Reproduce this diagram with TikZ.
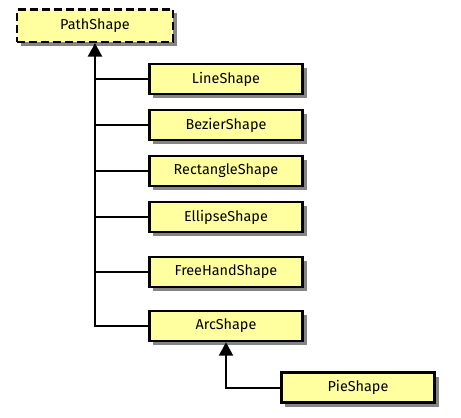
\documentclass[tikz,border=0pt]{standalone}
\usepackage{fontspec}
\setmainfont{Fira Sans}
\usetikzlibrary{arrows.meta,shadows}
\definecolor{boxfill}{RGB}{255,255,160}
\definecolor{shadowgray}{RGB}{120,120,120}
\begin{document}
\begin{tikzpicture}[x=0.75pt,y=-0.75pt,
  cls/.style={draw=black,line width=2pt,fill=boxfill,minimum width=115pt,minimum height=22.5pt,
    inner sep=0pt,font=\fontsize{10.8}{12}\selectfont,
    drop shadow={shadow xshift=3pt,shadow yshift=-3pt,fill=shadowgray,opacity=0.9}},
  abscls/.style={cls,dash pattern=on 6pt off 3pt},
  conn/.style={draw=black,line width=1.5pt},
  inh/.style={conn,-{Triangle[width=10.5pt,length=10pt]}}]
\useasboundingbox (0,0) rectangle (461,418);
\node[abscls,minimum width=117pt,minimum height=24.5pt] (path) at (95,25.5) {PathShape};
\node[cls] (line) at (226,79) {LineShape};
\node[cls] (bezier) at (226,125) {BezierShape};
\node[cls] (rect) at (226,171) {RectangleShape};
\node[cls] (ellipse) at (226,217) {EllipseShape};
\node[cls] (freehand) at (226,272) {FreeHandShape};
\node[cls] (arc) at (226,326) {ArcShape};
\node[cls] (pie) at (358,387.5) {PieShape};
\draw[inh] (arc.west) -| (path.south);
\foreach \n in {line,bezier,rect,ellipse,freehand}
  \draw[conn] (\n.west) -- (\n.west -| path.south);
\draw[inh] (pie.west) -| (arc.south);
\end{tikzpicture}
\end{document}
